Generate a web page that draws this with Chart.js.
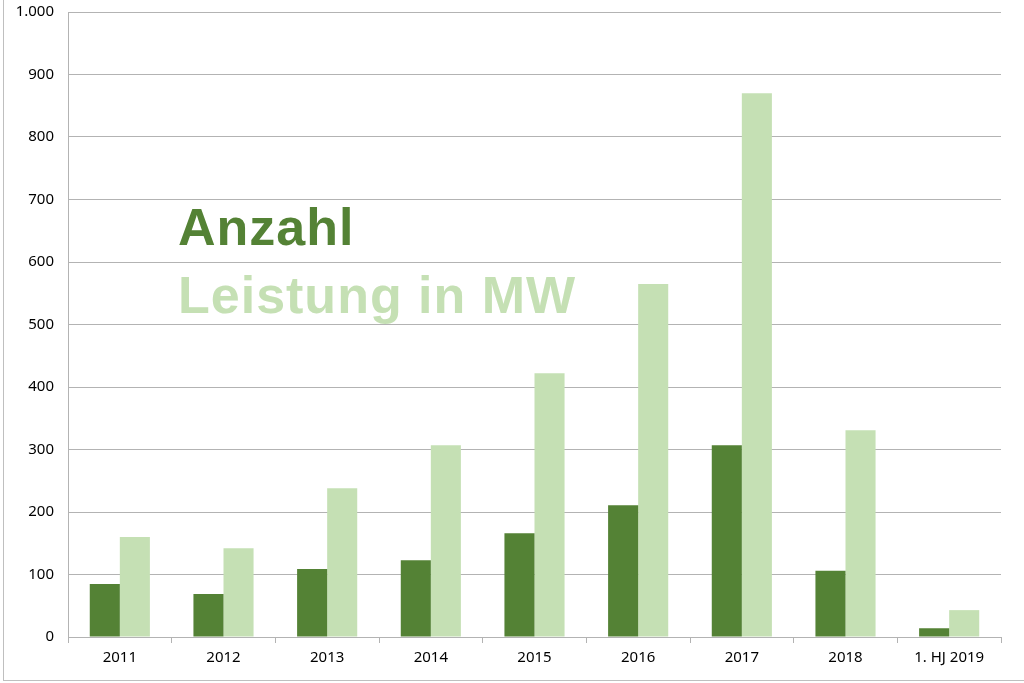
<!DOCTYPE html>
<html>
<head>
<meta charset="utf-8">
<script src="https://cdn.jsdelivr.net/npm/chart.js@4"></script>
<style>
  html, body { margin: 0; padding: 0; background: #fff; }
  #wrap { position: relative; width: 1024px; height: 683px; }
  #frame { position: absolute; left: 3px; top: -2px; width: 1030px; height: 683px; border: 1px solid #bfbfbf; box-sizing: border-box; pointer-events: none; }
</style>
</head>
<body>
<div id="wrap">
  <canvas id="chart" width="1024" height="683"></canvas>
  <div id="frame"></div>
</div>
<script>
const categories = ['2011', '2012', '2013', '2014', '2015', '2016', '2017', '2018', '1. HJ 2019'];
const anzahl = [85, 69, 109, 123, 166, 211, 307, 106, 14];
const leistung = [160, 142, 238, 307, 422, 565, 870, 331, 43];
const yTicks = [0, 100, 200, 300, 400, 500, 600, 700, 800, 900, 1000];

const darkGreen = '#548235';
const lightGreen = '#C5E0B4';
const gridColor = '#b3b3b3';
const labelFont = { family: "'Noto Sans', sans-serif", size: 15 };

// big coloured series names drawn inside the plot, like the original
const bigLegend = {
  id: 'bigLegend',
  afterDatasetsDraw(chart) {
    const ctx = chart.ctx;
    ctx.save();
    ctx.font = "bold 52px 'Liberation Sans', Arial, sans-serif";
    ctx.letterSpacing = '1px';
    ctx.textBaseline = 'alphabetic';
    ctx.textAlign = 'left';
    chart.data.datasets.forEach((ds, i) => {
      ctx.fillStyle = ds.backgroundColor;
      ctx.fillText(ds.label, 178, 245 + i * 68);
    });
    ctx.restore();
  }
};

new Chart(document.getElementById('chart').getContext('2d'), {
  type: 'bar',
  data: {
    labels: categories,
    datasets: [
      { label: 'Anzahl', data: anzahl, backgroundColor: darkGreen },
      { label: 'Leistung in MW', data: leistung, backgroundColor: lightGreen }
    ]
  },
  options: {
    responsive: false,
    animation: false,
    layout: { padding: { left: 0, right: 23, top: 12, bottom: 0 } },
    datasets: { bar: { barPercentage: 1, categoryPercentage: 0.58 } },
    plugins: {
      legend: { display: false },
      tooltip: { enabled: false }
    },
    scales: {
      x: {
        grid: { offset: true, drawOnChartArea: false, drawTicks: true, tickLength: 6, color: gridColor },
        border: { color: gridColor },
        ticks: { color: '#000', font: labelFont, padding: 6, maxRotation: 0 },
        afterFit: (scale) => { scale.height = 46; }
      },
      y: {
        min: 0,
        max: 1000,
        afterBuildTicks: (scale) => { scale.ticks = yTicks.map(v => ({ value: v })); },
        grid: { color: gridColor, drawTicks: false },
        border: { color: gridColor },
        ticks: {
          color: '#000',
          font: labelFont,
          padding: 14,
          callback: (v) => v.toLocaleString('de-DE')
        },
        afterFit: (scale) => {
          scale.width = 68;
          scale.paddingTop = 0;
          scale.paddingBottom = 0;
        }
      }
    }
  },
  plugins: [bigLegend]
});
</script>
</body>
</html>
